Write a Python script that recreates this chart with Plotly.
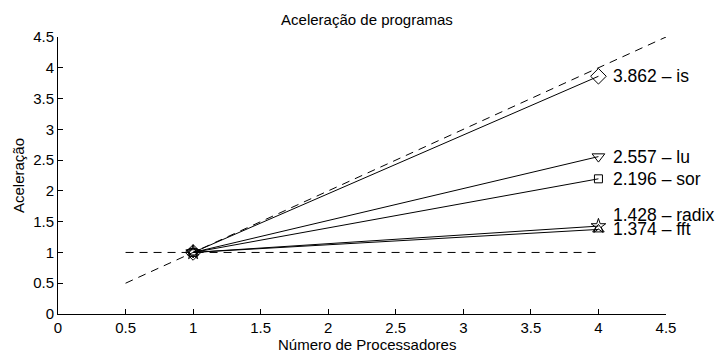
import plotly.graph_objects as go

procs = [1, 4]
series_names = ["is", "lu", "sor", "radix", "fft"]
series_vals = {
    "is": [1, 3.862],
    "lu": [1, 2.557],
    "sor": [1, 2.196],
    "radix": [1, 1.428],
    "fft": [1, 1.374],
}
symbols = {"is": "diamond-open", "lu": "triangle-down-open", "sor": "square-open",
           "radix": "star-open", "fft": "triangle-up-open"}
sizes = {"is": 12, "lu": 11, "sor": 8, "radix": 11, "fft": 10}
label_shift = {"is": 0, "lu": 0, "sor": 0, "radix": 11, "fft": 0}

ideal_x = [0.5, 4.5]
ideal_y = [0.5, 4.5]
base_x = [0.5, 4]
base_y = [1, 1]

ticks = [0, 0.5, 1, 1.5, 2, 2.5, 3, 3.5, 4, 4.5]
tick_text = ["0", "0.5", "1", "1.5", "2", "2.5", "3", "3.5", "4", "4.5"]

FONT = "Liberation Sans, Arial"

fig = go.Figure()
fig.add_trace(go.Scatter(x=ideal_x, y=ideal_y, mode="lines",
                         line=dict(color="black", width=1, dash="8px,6px"), showlegend=False))
fig.add_trace(go.Scatter(x=base_x, y=base_y, mode="lines",
                         line=dict(color="black", width=1, dash="8px,6px"), showlegend=False))
for n in series_names:
    fig.add_trace(go.Scatter(x=procs, y=series_vals[n], mode="lines+markers",
                             line=dict(color="black", width=1),
                             marker=dict(symbol=symbols[n], size=sizes[n], color="black",
                                         line=dict(width=1, color="black")),
                             showlegend=False))
    fig.add_annotation(x=procs[-1], y=series_vals[n][-1], xref="x", yref="y",
                       text=f"{series_vals[n][-1]:.3f} – {n}", showarrow=False,
                       xanchor="left", yanchor="middle", xshift=13, yshift=label_shift[n],
                       font=dict(family=FONT, size=17.5, color="black"))

axis_common = dict(range=[0, 4.5], tickvals=ticks, ticktext=tick_text, ticks="inside",
                   ticklen=5, tickcolor="black", showline=True, linecolor="black",
                   linewidth=1, showgrid=False, zeroline=False, mirror=False,
                   automargin=False,
                   tickfont=dict(family=FONT, size=15, color="black"))
fig.update_xaxes(**axis_common)
fig.update_yaxes(**axis_common)

fig.add_annotation(text="Número de Processadores", xref="paper", yref="paper",
                   x=0.508, y=0, yshift=-30, xanchor="center", yanchor="middle",
                   showarrow=False, font=dict(family=FONT, size=15, color="black"))
fig.add_annotation(text="Aceleração", xref="paper", yref="paper",
                   x=0, y=0.5, xshift=-39.5, xanchor="center", yanchor="middle",
                   textangle=-90, showarrow=False,
                   font=dict(family=FONT, size=15, color="black"))

fig.update_layout(width=720, height=344, margin=dict(l=50, r=62, t=29, b=38),
                  plot_bgcolor="white", paper_bgcolor="white",
                  title=dict(text="Aceleração de programas", x=0.4986, xanchor="center",
                             xref="container", y=0.965, yanchor="middle", yref="container",
                             font=dict(family=FONT, size=15, color="black")))
fig.write_html("out.html")
